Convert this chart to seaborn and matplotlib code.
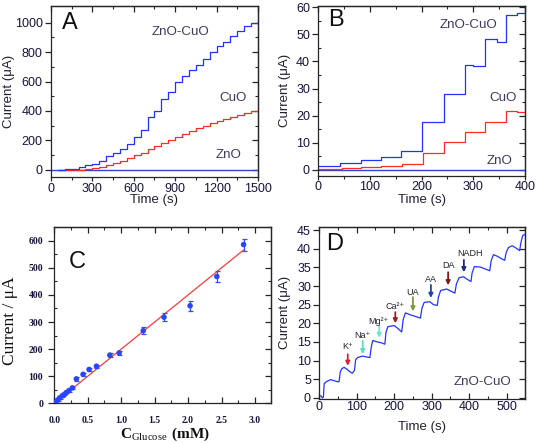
import seaborn as sns
import matplotlib.pyplot as plt
from matplotlib.ticker import NullFormatter

# ---- panel A: full run, 0-1500 s, 50 s steps ----
a_time = [50, 100, 150, 200, 250, 300, 350, 400, 450, 500, 550, 600, 650, 700, 750,
          800, 850, 900, 950, 1000, 1050, 1100, 1150, 1200, 1250, 1300, 1350, 1400,
          1450, 1500]
a_zncu = [2, 3, 4, 18, 30, 42, 60, 95, 115, 140, 175, 225, 270, 360, 400,
          480, 530, 600, 640, 680, 710, 750, 800, 840, 870, 910, 945, 975,
          1000, 1020]
a_cuo = [0, 0, 0, 2, 5, 12, 22, 33, 47, 60, 78, 98, 118, 140, 162,
         185, 205, 225, 245, 265, 283, 300, 318, 333, 348, 362, 375, 388,
         398, 405]
a_zno_t = [0, 1500]
a_zno = [0, 0]

# ---- panel B: first 400 s ----
b_zncu_t = [0, 42, 83, 121, 160, 200, 243, 283, 300, 323, 345, 363, 385, 400]
b_zncu = [1.5, 2.6, 3.6, 4.8, 6.9, 17.5, 28.0, 38.6, 38.2, 48.4, 47.3, 57.0, 57.8, 57.8]
b_cuo_t = [0, 45, 82, 122, 162, 202, 243, 283, 323, 363, 385, 400]
b_cuo = [0.3, 0.7, 1.0, 1.4, 2.2, 6.2, 10.2, 13.9, 17.8, 21.6, 21.2, 21.2]
b_zno_t = [0, 400]
b_zno = [0, 0]

# ---- panel C: calibration ----
conc = [0.02, 0.05, 0.08, 0.12, 0.15, 0.18, 0.22, 0.27, 0.33, 0.43, 0.52, 0.63,
        0.83, 0.97, 1.33, 1.64, 2.03, 2.43, 2.83]
current = [5, 12, 20, 28, 33, 40, 47, 57, 90, 107, 125, 137,
           178, 186, 268, 318, 360, 468, 586]
cur_err = [3, 3, 3, 3, 3, 3, 4, 5, 6, 5, 6, 6, 7, 7, 12, 15, 18, 20, 22]
fit_x = [0.0, 2.83]
fit_slope = 200.0
fit_icpt = 0.0

# ---- panel D: interference test ----
d_time = [0, 5, 8, 11, 13, 18, 30, 40, 50, 53, 56, 60, 66, 75, 82, 88, 94, 97, 102,
          115, 125, 135, 139, 143, 155, 165, 175, 178, 183, 200, 210, 220, 224, 230,
          245, 258, 270, 274, 280, 295, 305, 315, 318, 324, 340, 352, 362, 366, 373,
          385, 395, 405, 408, 414, 430, 445, 455, 459, 465, 475, 485, 495, 499, 505,
          515, 525, 535, 538, 543, 550]
d_cur = [0.6, 0.5, 0.0, 0.2, 3.8, 4.3, 4.9, 4.6, 4.3, 4.4, 7.0, 7.8, 8.2, 7.6, 7.0,
         6.6, 7.4, 10.2, 10.8, 11.2, 11.0, 10.8, 13.8, 15.4, 15.0, 14.8, 14.4, 17.5,
         19.1, 19.4, 18.6, 17.7, 21.0, 22.8, 22.2, 21.8, 21.4, 24.0, 25.6, 25.8, 25.0,
         24.8, 27.0, 28.8, 29.2, 28.6, 28.1, 30.5, 32.2, 32.5, 31.8, 31.2, 33.5, 35.2,
         35.1, 34.5, 34.1, 36.8, 38.4, 38.0, 37.4, 36.9, 39.0, 40.3, 40.8, 40.2, 39.5,
         41.5, 43.5, 43.9]
species = ['K⁺', 'Na⁺', 'Mg²⁺', 'Ca²⁺', 'UA', 'AA', 'DA', 'NADH']
add_t = [76, 116, 160, 203, 250, 298, 344, 386]
arrow_top = [11.7, 15.3, 19.3, 23.0, 27.0, 30.3, 33.7, 37.0]
arrow_tip = [8.6, 11.7, 16.1, 20.0, 23.2, 26.8, 30.2, 33.7]
label_t = [76, 116, 158, 203, 250, 298, 344, 402]
label_y = [13.7, 16.8, 20.6, 24.4, 28.3, 31.7, 35.5, 38.8]
arrow_col = ['#e02030', '#5fdcc0', '#70e8c8', '#a02020', '#7a9a40', '#2040b0',
             '#801818', '#1a2a80']

BLUE = '#2233ff'
RED = '#ff2a2a'
ZNO = '#3340dd'
TXT = '#3c3c5c'
TICK = '#14143c'

sns.set_theme(style='ticks')
plt.rcParams['font.family'] = ['Liberation Sans', 'DejaVu Sans']
plt.rcParams['mathtext.fontset'] = 'custom'
plt.rcParams['mathtext.rm'] = 'Liberation Serif'
plt.rcParams['mathtext.bf'] = 'Liberation Serif:bold'
plt.rcParams['axes.linewidth'] = 0.9

fig = plt.figure(figsize=(5.36, 4.43), dpi=100)
axA = fig.add_axes([0.0951, 0.6005, 0.3862, 0.386])
axB = fig.add_axes([0.5938, 0.6034, 0.3856, 0.3830])
axC = fig.add_axes([0.1013, 0.0896, 0.4043, 0.3987])
axD = fig.add_axes([0.5957, 0.0993, 0.3843, 0.3889])


def frame(ax, xmaj, xmin, ymaj, ymin, xlim, ylim, size=9, bottom='out',
          family=None, weight='normal', xpad=1.0, ypad=2, xlen=3):
    ax.set_xlim(xlim)
    ax.set_ylim(ylim)
    ax.set_xticks(xmaj)
    ax.set_xticks(xmin, minor=True)
    ax.set_yticks(ymaj)
    ax.set_yticks(ymin, minor=True)
    ax.tick_params(axis='x', which='major', direction=bottom, length=xlen, width=0.9,
                   labelsize=size, labelcolor=TICK, pad=xpad)
    ax.tick_params(axis='x', which='minor', direction=bottom, length=2.5, width=0.8)
    ax.tick_params(axis='y', which='major', direction='out', length=4, width=0.9,
                   labelsize=size, labelcolor=TICK, pad=ypad)
    ax.tick_params(axis='y', which='minor', direction='in', length=2.5, width=0.8)
    for lab in ax.get_xticklabels() + ax.get_yticklabels():
        if family:
            lab.set_family(family)
        lab.set_weight(weight)
    top = ax.secondary_xaxis('top')
    top.set_xticks(xmaj)
    top.set_xticks(xmin, minor=True)
    top.xaxis.set_major_formatter(NullFormatter())
    top.tick_params(which='major', direction='in', length=4, width=0.9)
    top.tick_params(which='minor', direction='in', length=2.5, width=0.8)
    right = ax.secondary_yaxis('right')
    right.set_yticks(ymaj)
    right.set_yticks(ymin, minor=True)
    right.yaxis.set_major_formatter(NullFormatter())
    right.tick_params(which='major', direction='in', length=4, width=0.9)
    right.tick_params(which='minor', direction='in', length=2.5, width=0.8)


# ---- A ----
sns.lineplot(x=a_zno_t, y=a_zno, ax=axA, color=ZNO, lw=1.0)
sns.lineplot(x=a_time, y=a_cuo, ax=axA, color=RED, lw=0.9, drawstyle='steps-post',
             estimator=None, sort=False)
sns.lineplot(x=a_time, y=a_zncu, ax=axA, color=BLUE, lw=0.9, drawstyle='steps-post',
             estimator=None, sort=False)
frame(axA, range(0, 1501, 300), range(150, 1500, 300), range(0, 1001, 200),
      range(100, 1100, 200), (0, 1500), (-48, 1113))
axA.set_xlabel('Time (s)', fontsize=9.5, color='#202030')
axA.set_ylabel('Current (μA)', fontsize=9.5, color='#202030')
axA.xaxis.set_label_coords(0.5, -0.1)
axA.yaxis.set_label_coords(-0.175, 0.5)
axA.text(942, 937, 'ZnO-CuO', fontsize=9.6, color=TXT, ha='center', va='center')
axA.text(1319, 489, 'CuO', fontsize=9.6, color=TXT, ha='center', va='center')
axA.text(1290, 102, 'ZnO', fontsize=9.6, color=TXT, ha='center', va='center')
axA.text(138, 998, 'A', fontsize=17, color='#101010', ha='center', va='center')

# ---- B ----
sns.lineplot(x=b_zno_t, y=b_zno, ax=axB, color=ZNO, lw=1.0)
sns.lineplot(x=b_cuo_t, y=b_cuo, ax=axB, color=RED, lw=0.9, drawstyle='steps-post',
             estimator=None, sort=False)
sns.lineplot(x=b_zncu_t, y=b_zncu, ax=axB, color=BLUE, lw=0.9, drawstyle='steps-post',
             estimator=None, sort=False)
frame(axB, range(0, 401, 100), range(50, 400, 100), range(0, 61, 10),
      range(5, 60, 10), (0, 400), (-2.1, 60.4))
axB.set_xlabel('Time (s)', fontsize=9.5, color='#202030')
axB.set_ylabel('Current (μA)', fontsize=9.5, color='#202030')
axB.xaxis.set_label_coords(0.5, -0.108)
axB.yaxis.set_label_coords(-0.132, 0.5)
axB.text(291, 53.4, 'ZnO-CuO', fontsize=9.6, color=TXT, ha='center', va='center')
axB.text(357, 26.6, 'CuO', fontsize=9.6, color=TXT, ha='center', va='center')
axB.text(350, 3.4, 'ZnO', fontsize=9.6, color=TXT, ha='center', va='center')
axB.text(34, 55.3, 'B', fontsize=17, color='#101010', ha='center', va='center')

# ---- C ----
fit_y = [fit_slope * v + fit_icpt for v in fit_x]
sns.lineplot(x=fit_x, y=fit_y, ax=axC, color='#ff3a3a', lw=0.9)
axC.errorbar(conc, current, yerr=cur_err, fmt='none', ecolor='#3050ff', elinewidth=0.9,
             capsize=1.8, capthick=0.9)
sns.scatterplot(x=conc, y=current, ax=axC, color='#2a45ff', s=16, edgecolor='none',
                zorder=3)
frame(axC, [0, 0.5, 1.0, 1.5, 2.0, 2.5, 3.0], [0.25, 0.75, 1.25, 1.75, 2.25, 2.75],
      range(0, 601, 100), range(50, 651, 100), (0, 3.24), (0, 652), size=7,
      bottom='in', family='Liberation Serif', weight='bold', xpad=9, ypad=4, xlen=4)
axC.set_xticklabels(['0.0', '0.5', '1.0', '1.5', '2.0', '2.5', '3.0'])
for lab in axC.get_xticklabels():
    lab.set_family('Liberation Serif')
    lab.set_weight('bold')
axC.set_ylabel('Current / μA', fontsize=12.5, family='Liberation Serif', color='#101010')
axC.set_xlabel(r'$\mathbf{C}_{\mathrm{Glucose}}\ \mathbf{(mM)}$', fontsize=11,
               color='#101010')
axC.xaxis.set_label_coords(0.51, -0.125)
axC.yaxis.set_label_coords(-0.168, 0.47)
axC.text(0.34, 521, 'C', fontsize=17, color='#101010', ha='center', va='center')

# ---- D ----
sns.lineplot(x=d_time, y=d_cur, ax=axD, color=BLUE, lw=0.9, estimator=None, sort=False)
frame(axD, range(0, 501, 100), range(50, 551, 100), range(0, 46, 5), [],
      (0, 550), (-0.3, 45.9), bottom='in', xpad=1.5, xlen=4)
axD.set_xlabel('Time (s)', fontsize=9.5, color='#202030')
axD.set_ylabel('Current (μA)', fontsize=9.5, color='#202030')
axD.xaxis.set_label_coords(0.5, -0.128)
axD.yaxis.set_label_coords(-0.137, 0.5)
for name, t, y0, y1, lt, ly, c in zip(species, add_t, arrow_top, arrow_tip,
                                      label_t, label_y, arrow_col):
    axD.annotate('', xy=(t, y1), xytext=(t, y0),
                 arrowprops=dict(arrowstyle='-|>', color=c, lw=1.3, mutation_scale=6,
                                 shrinkA=0, shrinkB=0))
    axD.text(lt, ly, name, fontsize=6.5, color='#202030', ha='center', va='center',
             family=['Liberation Sans', 'DejaVu Sans'])
axD.text(435, 4.2, 'ZnO-CuO', fontsize=9.6, color=TXT, ha='center', va='center')
axD.text(40, 41.4, 'D', fontsize=17, color='#101010', ha='center', va='center')

fig.savefig('out.png', dpi=100)
